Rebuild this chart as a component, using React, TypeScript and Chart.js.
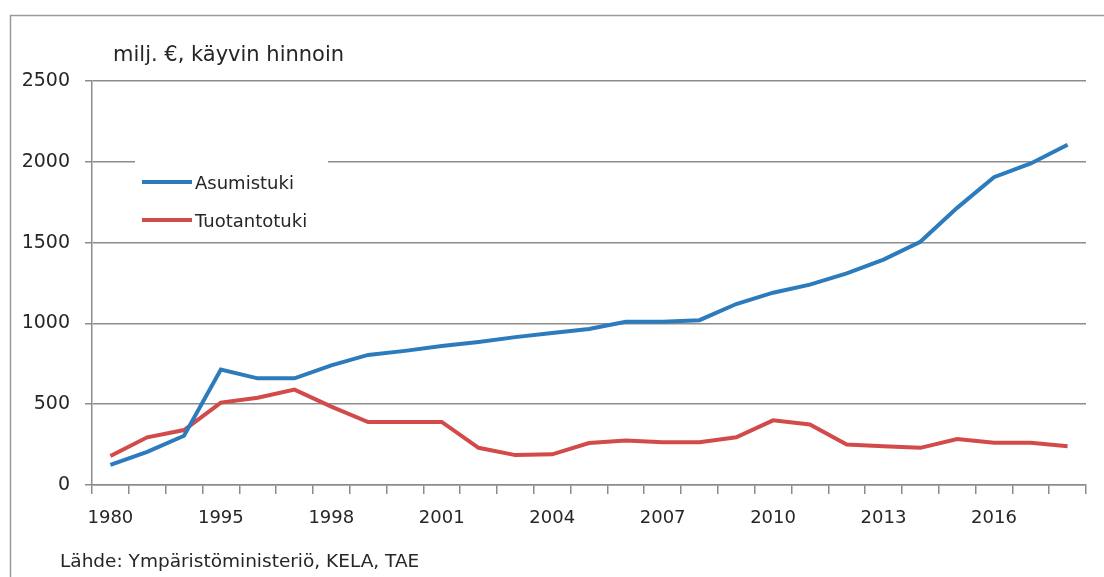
import React, { useEffect, useRef } from "react";
import { Chart, registerables } from "chart.js";

Chart.register(...registerables);

const years = [
  "1980", "1985", "1990", "1995", "1996", "1997", "1998", "1999", "2000",
  "2001", "2002", "2003", "2004", "2005", "2006", "2007", "2008", "2009",
  "2010", "2011", "2012", "2013", "2014", "2015", "2016", "2017", "2018",
];

const asumistuki = [
  125, 205, 305, 715, 660, 660, 740, 805, 830,
  860, 885, 915, 940, 965, 1010, 1010, 1020, 1120,
  1190, 1240, 1310, 1395, 1505, 1715, 1905, 1990, 2105,
];

const tuotantotuki = [
  180, 295, 340, 510, 540, 590, 485, 390, 390,
  390, 230, 185, 190, 260, 275, 265, 265, 295,
  400, 375, 250, 240, 230, 285, 262, 262, 240,
];

const yTicks = [0, 500, 1000, 1500, 2000, 2500];

const unitLabel = "milj. €, käyvin hinnoin";
const sourceLabel = "Lähde: Ympäristöministeriö, KELA, TAE";

const FONT = "'DejaVu Sans', sans-serif";
const GRID = "#8c8c8c";
const TEXT = "#262626";

const decorPlugin = {
  id: "decor",
  beforeDraw(chart: any) {
    const { ctx } = chart;
    ctx.save();
    ctx.fillStyle = "#ffffff";
    ctx.fillRect(0, 0, chart.width, chart.height);
    ctx.strokeStyle = "#9a9a9a";
    ctx.lineWidth = 1.5;
    ctx.beginPath();
    ctx.moveTo(10.5, chart.height);
    ctx.lineTo(10.5, 15.5);
    ctx.lineTo(chart.width, 15.5);
    ctx.stroke();
    ctx.fillStyle = TEXT;
    ctx.textBaseline = "alphabetic";
    ctx.textAlign = "left";
    ctx.font = `21px ${FONT}`;
    ctx.fillText(unitLabel, 113, 61);
    ctx.font = `18.5px ${FONT}`;
    ctx.fillText(sourceLabel, 60, 567);
    ctx.restore();
  },
  beforeDatasetsDraw(chart: any) {
    const { ctx } = chart;
    ctx.save();
    ctx.fillStyle = "#ffffff";
    ctx.fillRect(135, 150, 193, 88);
    const ds = chart.data.datasets;
    const rows = [182, 220];
    ds.forEach((d: any, i: number) => {
      const y = rows[i];
      ctx.strokeStyle = d.borderColor;
      ctx.lineWidth = 4;
      ctx.lineCap = "butt";
      ctx.beginPath();
      ctx.moveTo(142, y);
      ctx.lineTo(192, y);
      ctx.stroke();
      ctx.fillStyle = TEXT;
      ctx.font = `18px ${FONT}`;
      ctx.textBaseline = "alphabetic";
      ctx.textAlign = "left";
      ctx.fillText(d.label, 195, y + 6.5);
    });
    ctx.restore();
  },
};

export default function App() {
  const ref = useRef<HTMLCanvasElement | null>(null);

  useEffect(() => {
    if (!ref.current) return;
    const chart = new Chart(ref.current, {
      type: "line",
      data: {
        labels: years,
        datasets: [
          {
            label: "Asumistuki",
            data: asumistuki,
            borderColor: "#2b7bbd",
            backgroundColor: "#2b7bbd",
            borderWidth: 4,
            pointRadius: 0,
            tension: 0,
          },
          {
            label: "Tuotantotuki",
            data: tuotantotuki,
            borderColor: "#d24a4a",
            backgroundColor: "#d24a4a",
            borderWidth: 4,
            pointRadius: 0,
            tension: 0,
          },
        ],
      },
      options: {
        animation: false,
        responsive: false,
        maintainAspectRatio: false,
        layout: { padding: { left: 10, right: 18, top: 81, bottom: 42 } },
        plugins: {
          legend: { display: false },
          title: { display: false },
          tooltip: { enabled: false },
        },
        scales: {
          x: {
            type: "category",
            offset: true,
            grid: {
              offset: true,
              drawOnChartArea: false,
              drawTicks: true,
              tickLength: 9,
              color: GRID,
              lineWidth: 1.5,
            },
            border: { display: true, color: GRID, width: 1.5 },
            ticks: {
              autoSkip: false,
              maxRotation: 0,
              padding: 14,
              color: TEXT,
              font: { family: FONT, size: 18 },
              callback: (_v: any, i: number) => (i % 3 === 0 ? years[i] : ""),
            },
            afterFit: (s: any) => {
              s.height = 50;
            },
          },
          y: {
            min: 0,
            max: 2500,
            afterBuildTicks: (s: any) => {
              s.ticks = yTicks.map((v) => ({ value: v }));
            },
            grid: {
              color: GRID,
              lineWidth: 1.5,
              drawTicks: true,
              tickLength: 7,
            },
            border: { display: true, color: GRID, width: 1.5 },
            ticks: {
              padding: 15,
              color: TEXT,
              font: { family: FONT, size: 19 },
              callback: (v: any) => String(v),
            },
            afterFit: (s: any) => {
              s.width = 82;
            },
          },
        },
      },
      plugins: [decorPlugin],
    });
    return () => chart.destroy();
  }, []);

  return (
    <div style={{ position: "absolute", left: 0, top: 0, width: 1104, height: 577 }}>
      <canvas ref={ref} width={1104} height={577} style={{ width: 1104, height: 577 }} />
    </div>
  );
}
